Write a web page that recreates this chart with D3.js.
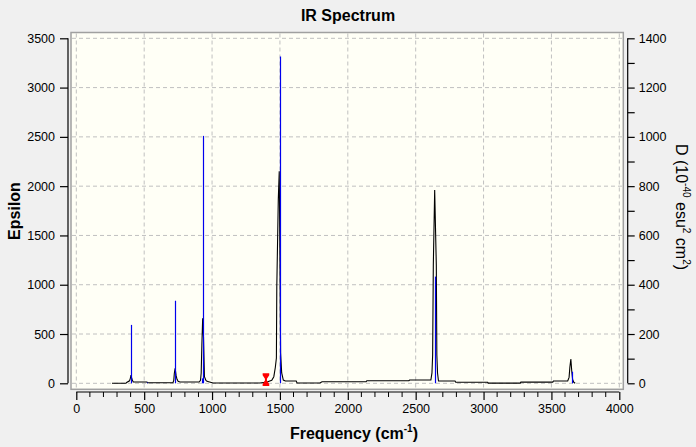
<!DOCTYPE html>
<html>
<head>
<meta charset="utf-8">
<script src="https://cdn.jsdelivr.net/npm/d3@7"></script>
<style>
  html, body { margin: 0; padding: 0; background: #f0f0f0; }
  svg { display: block; font-family: "Liberation Sans", Arial, sans-serif; }
</style>
</head>
<body>
<div id="chart"></div>
<script>
// computed spectrum (epsilon, left axis)
const specFreq = [263, 365, 371, 392, 398, 403, 408, 413, 420, 520, 525, 712, 718, 722, 728, 735, 742, 750, 764,
  905, 915, 920, 925, 931, 937, 944, 955, 963, 1007, 1353, 1405, 1440, 1455, 1466, 1474, 1477, 1488, 1495, 1500,
  1505, 1513, 1525, 1540, 1620, 1626, 1795, 1810, 2135, 2140, 2450, 2455, 2612, 2620, 2625, 2630, 2640, 2652,
  2656, 2661, 2668, 2790, 2795, 3030, 3035, 3270, 3275, 3510, 3515, 3620, 3630, 3636, 3643, 3650, 3656, 3665, 3675];
const specEps = [0, 0, 8, 25, 50, 84, 55, 30, 13, 13, 6, 6, 30, 100, 152, 80, 40, 20, 13,
  13, 30, 105, 390, 660, 473, 67, 30, 20, 3, 3, 14, 30, 67, 160, 257, 980, 1870, 2150, 1285,
  307, 105, 33, 23, 23, 3, 3, 16, 16, 26, 26, 33, 33, 105, 287, 1200, 1960, 1200,
  287, 105, 23, 23, 10, 10, 2, 2, 12, 12, 23, 23, 60, 165, 246, 120, 40, 10, 0];

// stick intensities (D, right axis)
const stickFreq = [405, 520, 730, 928, 936, 1497, 2641, 3651];
const stickD = [237, 3, 335, 20, 1004, 1326, 433, 47];

const xTicks = [0, 500, 1000, 1500, 2000, 2500, 3000, 3500, 4000];
const yLeftTicks = [0, 500, 1000, 1500, 2000, 2500, 3000, 3500];
const yRightTicks = [0, 200, 400, 600, 800, 1000, 1200, 1400];

const markerFreq = 1397;

const W = 696, H = 447;
const frame = { left: 71, top: 32.5, right: 623.3, bottom: 389.3 };

const x = d3.scaleLinear().domain([0, 4000]).range([76.3, 619.3]);
const yL = d3.scaleLinear().domain([0, 3500]).range([383.3, 38.3]);
const yR = d3.scaleLinear().domain([0, 1400]).range([383.3, 38.3]);

const svg = d3.select("#chart").append("svg")
  .attr("width", W).attr("height", H);

// plot area
svg.append("rect")
  .attr("x", frame.left).attr("y", frame.top)
  .attr("width", frame.right - frame.left).attr("height", frame.bottom - frame.top)
  .attr("fill", "#fffff6");

// grid
const grid = svg.append("g").attr("stroke", "#c0c0c0").attr("stroke-dasharray", "4,3");
xTicks.forEach(t => {
  grid.append("line")
    .attr("x1", x(t)).attr("x2", x(t))
    .attr("y1", frame.top + 1).attr("y2", frame.bottom - 1);
});
yLeftTicks.forEach(t => {
  grid.append("line")
    .attr("x1", frame.left + 1).attr("x2", frame.right - 1)
    .attr("y1", yL(t)).attr("y2", yL(t));
});

// spectrum
const line = d3.line()
  .x(i => x(specFreq[i]))
  .y(i => yL(specEps[i]));
svg.append("path")
  .attr("d", line(d3.range(specFreq.length)))
  .attr("fill", "none").attr("stroke", "#000").attr("stroke-width", 1.1);

// sticks
svg.append("g").selectAll("line")
  .data(stickFreq)
  .join("line")
  .attr("x1", d => Math.round(x(d)) + 0.5).attr("x2", d => Math.round(x(d)) + 0.5)
  .attr("y1", yR(0)).attr("y2", (d, i) => yR(stickD[i]))
  .attr("stroke", "#0000ee").attr("stroke-width", 1.2);

// red marker
const mx = x(markerFreq), my = yL(0);
svg.append("path")
  .attr("d", `M${mx - 3.3},${my - 10} h6.6 v2 l-2.3,3.5 v1.6 l2.3,3.5 v2.2 h-6.6 v-2.2 l2.3,-3.5 v-1.6 l-2.3,-3.5 z`)
  .attr("fill", "#ff0000");

// frame border
svg.append("rect")
  .attr("x", frame.left).attr("y", frame.top)
  .attr("width", frame.right - frame.left).attr("height", frame.bottom - frame.top)
  .attr("fill", "none").attr("stroke", "#a0a0a0").attr("stroke-width", 1.5);

// axes
const fmt = d3.format("d");
const bottomAxis = d3.axisBottom(x).tickValues(xTicks).tickSize(8).tickPadding(4).tickFormat(fmt);
const gx = svg.append("g").attr("transform", "translate(0,392)").call(bottomAxis);
gx.select(".domain").attr("d", `M${x(0)},0H${x(4000)}`);
gx.selectAll(".minor").data(d3.range(0, 4001, 100).filter(v => v % 500 !== 0))
  .join("line").attr("class", "minor")
  .attr("x1", d => x(d)).attr("x2", d => x(d))
  .attr("y1", 0).attr("y2", 5).attr("stroke", "#000");

const leftAxis = d3.axisLeft(yL).tickValues(yLeftTicks).tickSize(8).tickPadding(5).tickFormat(fmt);
const gl = svg.append("g").attr("transform", "translate(68,0)").call(leftAxis);
gl.select(".domain").attr("d", `M0,${yL(0)}V${yL(3500)}`);

const rightAxis = d3.axisRight(yR).tickValues(d3.range(0, 1401, 100)).tickSize(7).tickPadding(4)
  .tickFormat(d => yRightTicks.includes(d) ? fmt(d) : "");
const gr = svg.append("g").attr("transform", "translate(627.7,0)").call(rightAxis);
gr.select(".domain").attr("d", `M0,${yR(0)}V${yR(1400)}`);

svg.selectAll(".tick text")
  .attr("font-family", "Liberation Sans, Arial, sans-serif")
  .attr("font-size", 12.5).attr("fill", "#000");
svg.selectAll(".domain, .tick line").attr("stroke", "#000").attr("stroke-width", 1.2);

// titles
svg.append("text")
  .attr("x", 348).attr("y", 21)
  .attr("text-anchor", "middle")
  .attr("font-size", 16).attr("font-weight", "bold")
  .text("IR Spectrum");

const xt = svg.append("text")
  .attr("x", 354).attr("y", 439)
  .attr("text-anchor", "middle")
  .attr("font-size", 16).attr("font-weight", "bold");
xt.append("tspan").text("Frequency (cm");
xt.append("tspan").attr("font-size", 10).attr("dy", -7).text("-1");
xt.append("tspan").attr("dy", 7).text(")");

svg.append("text")
  .attr("transform", "translate(20,211) rotate(-90)")
  .attr("text-anchor", "middle")
  .attr("font-size", 16).attr("font-weight", "bold")
  .text("Epsilon");

const rt = svg.append("text")
  .attr("transform", "translate(676,207) rotate(90)")
  .attr("text-anchor", "middle")
  .attr("font-size", 16);
rt.append("tspan").text("D (10");
rt.append("tspan").attr("font-size", 10).attr("dy", -7).text("-40");
rt.append("tspan").attr("dy", 7).text(" esu");
rt.append("tspan").attr("font-size", 10).attr("dy", -7).text("2");
rt.append("tspan").attr("dy", 7).text(" cm");
rt.append("tspan").attr("font-size", 10).attr("dy", -7).text("2");
rt.append("tspan").attr("dy", 7).text(")");
</script>
</body>
</html>
